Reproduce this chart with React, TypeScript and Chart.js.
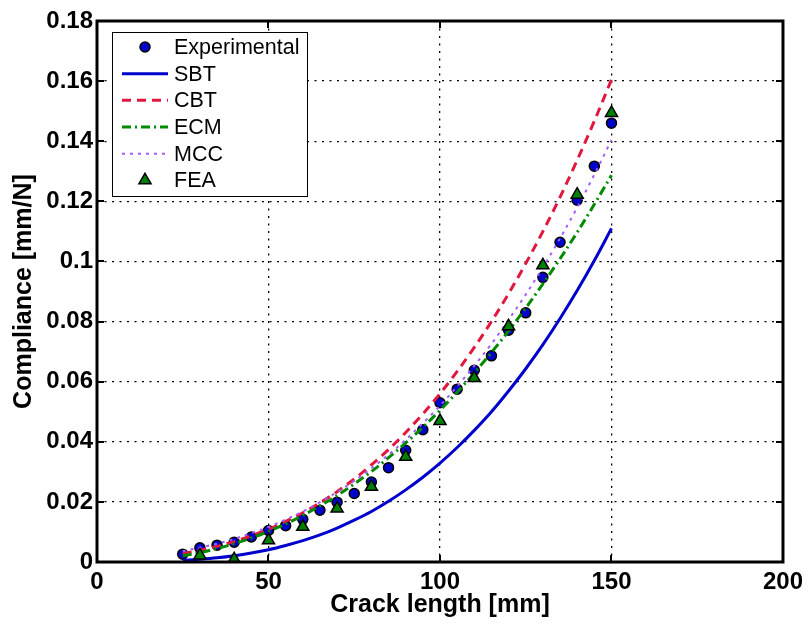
import React, { useEffect, useRef } from 'react';
import { Chart, registerables } from 'chart.js';

Chart.register(...registerables);

// ---- data ----
const crackLength = [25, 30, 35, 40, 45, 50, 55, 60, 65, 70, 75, 80, 85, 90, 95, 100, 105, 110, 115, 120, 125, 130, 135, 140, 145, 150];
const experimental = [0.0026, 0.0047, 0.0056, 0.0066, 0.0083, 0.0105, 0.0121, 0.0142, 0.0172, 0.0199, 0.0228, 0.0266, 0.0314, 0.0372, 0.0440, 0.0530, 0.0575, 0.0638, 0.0686, 0.0771, 0.0829, 0.0947, 0.1064, 0.1204, 0.1317, 0.1460];

const feaLength = [30, 40, 50, 60, 70, 80, 90, 100, 110, 120, 130, 140, 150];
const fea = [0.0022, 0.0009, 0.0072, 0.0117, 0.0178, 0.0250, 0.0350, 0.0469, 0.0612, 0.0784, 0.0987, 0.1222, 0.1494];

const modelLength = [25, 30, 35, 40, 45, 50, 55, 60, 65, 70, 75, 80, 85, 90, 95, 100, 105, 110, 115, 120, 125, 130, 135, 140, 145, 150];
const sbt = [0.0005, 0.0009, 0.0014, 0.0021, 0.0030, 0.0041, 0.0055, 0.0071, 0.0090, 0.0113, 0.0139, 0.0168, 0.0202, 0.0240, 0.0282, 0.0329, 0.0381, 0.0438, 0.0500, 0.0569, 0.0643, 0.0723, 0.0810, 0.0903, 0.1003, 0.1110];
const cbt = [0.0028, 0.0039, 0.0052, 0.0068, 0.0087, 0.0109, 0.0135, 0.0164, 0.0197, 0.0234, 0.0276, 0.0323, 0.0374, 0.0431, 0.0493, 0.0560, 0.0634, 0.0714, 0.0800, 0.0893, 0.0993, 0.1100, 0.1214, 0.1337, 0.1467, 0.1605];
const ecm = [0.0021, 0.0031, 0.0045, 0.0061, 0.0080, 0.0102, 0.0127, 0.0155, 0.0187, 0.0221, 0.0260, 0.0301, 0.0347, 0.0396, 0.0448, 0.0505, 0.0565, 0.0629, 0.0697, 0.0769, 0.0845, 0.0925, 0.1009, 0.1097, 0.1190, 0.1287];
const mcc = [0.0036, 0.0048, 0.0061, 0.0077, 0.0096, 0.0117, 0.0141, 0.0168, 0.0199, 0.0233, 0.0270, 0.0312, 0.0357, 0.0407, 0.0462, 0.0520, 0.0584, 0.0653, 0.0726, 0.0806, 0.0890, 0.0980, 0.1077, 0.1179, 0.1289, 0.1404];

const xTicks = [0, 50, 100, 150, 200];
const xTickLabels = ['0', '50', '100', '150', '200'];
const yTicks = [0, 0.02, 0.04, 0.06, 0.08, 0.1, 0.12, 0.14, 0.16, 0.18];
const yTickLabels = ['0', '0.02', '0.04', '0.06', '0.08', '0.1', '0.12', '0.14', '0.16', '0.18'];

const seriesNames = ['Experimental', 'SBT', 'CBT', 'ECM', 'MCC', 'FEA'];

const FONT = '"Liberation Sans", Arial, Helvetica, sans-serif';

const pts = (xs: number[], ys: number[]) => xs.map((x, i) => ({ x, y: ys[i] }));

const framePlugin = {
  id: 'matlabFrame',
  afterDatasetsDraw(chart: any) {
    const { ctx, chartArea: a, scales } = chart;
    ctx.save();
    ctx.setLineDash([]);
    ctx.strokeStyle = '#000';
    ctx.lineWidth = 2;
    const tl = 7;
    ctx.beginPath();
    xTicks.forEach((v) => {
      const px = Math.round(scales.x.getPixelForValue(v));
      ctx.moveTo(px, a.bottom);
      ctx.lineTo(px, a.bottom - tl);
      ctx.moveTo(px, a.top);
      ctx.lineTo(px, a.top + tl);
    });
    yTicks.forEach((v) => {
      const py = Math.round(scales.y.getPixelForValue(v));
      ctx.moveTo(a.left, py);
      ctx.lineTo(a.left + tl, py);
      ctx.moveTo(a.right, py);
      ctx.lineTo(a.right - tl, py);
    });
    ctx.stroke();
    ctx.lineWidth = 3;
    ctx.strokeRect(a.left, a.top, a.right - a.left, a.bottom - a.top);
    ctx.restore();
  },
};

const legendPlugin = {
  id: 'matlabLegend',
  afterDraw(chart: any) {
    const { ctx } = chart;
    const ds = chart.data.datasets;
    const bx = 112.5, by = 32.5, bw = 195, bh = 164;
    ctx.save();
    ctx.fillStyle = '#fff';
    ctx.fillRect(bx, by, bw, bh);
    ctx.strokeStyle = '#000';
    ctx.lineWidth = 1;
    ctx.setLineDash([]);
    ctx.strokeRect(bx, by, bw, bh);
    ctx.font = `21.5px ${FONT}`;
    ctx.textBaseline = 'middle';
    ctx.textAlign = 'left';
    seriesNames.forEach((name, i) => {
      const d = ds.find((q: any) => q.label === name);
      const y = 47 + i * 26.67;
      if (d.showLine === false) {
        ctx.setLineDash([]);
        ctx.fillStyle = d.pointBackgroundColor;
        ctx.strokeStyle = '#000';
        ctx.lineWidth = d.pointBorderWidth;
        ctx.beginPath();
        if (d.pointStyle === 'triangle') {
          const r = d.pointRadius;
          ctx.moveTo(145, y - r);
          ctx.lineTo(145 + r * 0.866, y + r * 0.5);
          ctx.lineTo(145 - r * 0.866, y + r * 0.5);
          ctx.closePath();
        } else {
          ctx.arc(145, y, d.pointRadius, 0, Math.PI * 2);
        }
        ctx.fill();
        ctx.stroke();
      } else {
        ctx.strokeStyle = d.borderColor;
        ctx.lineWidth = d.borderWidth;
        ctx.setLineDash(d.borderDash || []);
        ctx.beginPath();
        ctx.moveTo(122, y);
        ctx.lineTo(168, y);
        ctx.stroke();
      }
      ctx.setLineDash([]);
      ctx.fillStyle = '#000';
      ctx.fillText(name, 174, y + 1);
    });
    ctx.restore();
  },
};

export default function App() {
  const ref = useRef<HTMLCanvasElement | null>(null);

  useEffect(() => {
    document.body.style.margin = '0';
    const canvas = ref.current;
    if (!canvas) return;
    const lineCommon = { showLine: true, pointRadius: 0, fill: false, tension: 0.4, cubicInterpolationMode: 'monotone' as const };
    const chart = new Chart(canvas, {
      type: 'scatter',
      data: {
        datasets: [
          {
            label: 'Experimental',
            data: pts(crackLength, experimental),
            showLine: false,
            pointStyle: 'circle',
            pointRadius: 5,
            pointBackgroundColor: '#0000cc',
            pointBorderColor: '#000',
            pointBorderWidth: 1.5,
            order: 6,
          } as any,
          { label: 'SBT', data: pts(modelLength, sbt), borderColor: '#0000cc', borderWidth: 3, ...lineCommon, order: 5 },
          { label: 'CBT', data: pts(modelLength, cbt), borderColor: '#e0183f', borderWidth: 3, borderDash: [9, 6], ...lineCommon, order: 4 },
          { label: 'ECM', data: pts(modelLength, ecm), borderColor: '#008a00', borderWidth: 3, borderDash: [9, 4, 2, 4], ...lineCommon, order: 3 },
          { label: 'MCC', data: pts(modelLength, mcc), borderColor: '#a05cff', borderWidth: 2, borderDash: [3, 5], ...lineCommon, order: 2 },
          {
            label: 'FEA',
            data: pts(feaLength, fea),
            showLine: false,
            pointStyle: 'triangle',
            pointRadius: 7,
            pointBackgroundColor: '#008000',
            pointBorderColor: '#000',
            pointBorderWidth: 1.5,
            order: 1,
          } as any,
        ],
      },
      options: {
        responsive: false,
        animation: false,
        devicePixelRatio: 1,
        layout: { padding: { left: 0, right: 24, top: 21, bottom: 0 } },
        plugins: { legend: { display: false }, tooltip: { enabled: false } },
        scales: {
          x: {
            type: 'linear',
            min: 0,
            max: 200,
            afterBuildTicks: (s: any) => { s.ticks = xTicks.map((v) => ({ value: v })); },
            afterFit: (s: any) => { s.height = 62; },
            ticks: {
              color: '#000',
              font: { family: FONT, size: 24, weight: 'bold', lineHeight: 1.2 },
              padding: 6,
              maxRotation: 0,
              callback: (v: any) => xTickLabels[xTicks.indexOf(Number(v))] ?? '',
            },
            grid: { color: '#000', lineWidth: 1.3, drawTicks: false },
            border: { display: false, dash: [2, 5.5] },
            title: {
              display: true,
              text: 'Crack length [mm]',
              color: '#000',
              font: { family: FONT, size: 25, weight: 'bold', lineHeight: 1.2 },
              padding: { top: 0, bottom: 3.5 },
            },
          },
          y: {
            type: 'linear',
            min: 0,
            max: 0.18,
            afterBuildTicks: (s: any) => { s.ticks = yTicks.map((v) => ({ value: v })); },
            afterFit: (s: any) => { s.width = 97; },
            ticks: {
              color: '#000',
              font: { family: FONT, size: 24, weight: 'bold', lineHeight: 1.2 },
              padding: 4,
              callback: (v: any) => {
                const idx = yTicks.findIndex((t) => Math.abs(t - Number(v)) < 1e-9);
                return idx >= 0 ? yTickLabels[idx] : '';
              },
            },
            grid: { color: '#000', lineWidth: 1.3, drawTicks: false },
            border: { display: false, dash: [2, 5.5] },
            title: {
              display: true,
              text: 'Compliance [mm/N]',
              color: '#000',
              font: { family: FONT, size: 25, weight: 'bold', lineHeight: 1.2 },
              padding: { top: 9, bottom: 0 },
            },
          },
        },
      },
      plugins: [framePlugin, legendPlugin],
    });
    return () => chart.destroy();
  }, []);

  return (
    <div style={{ width: 809, height: 624 }}>
      <canvas ref={ref} width={809} height={624} style={{ display: 'block', width: 809, height: 624 }} />
    </div>
  );
}
